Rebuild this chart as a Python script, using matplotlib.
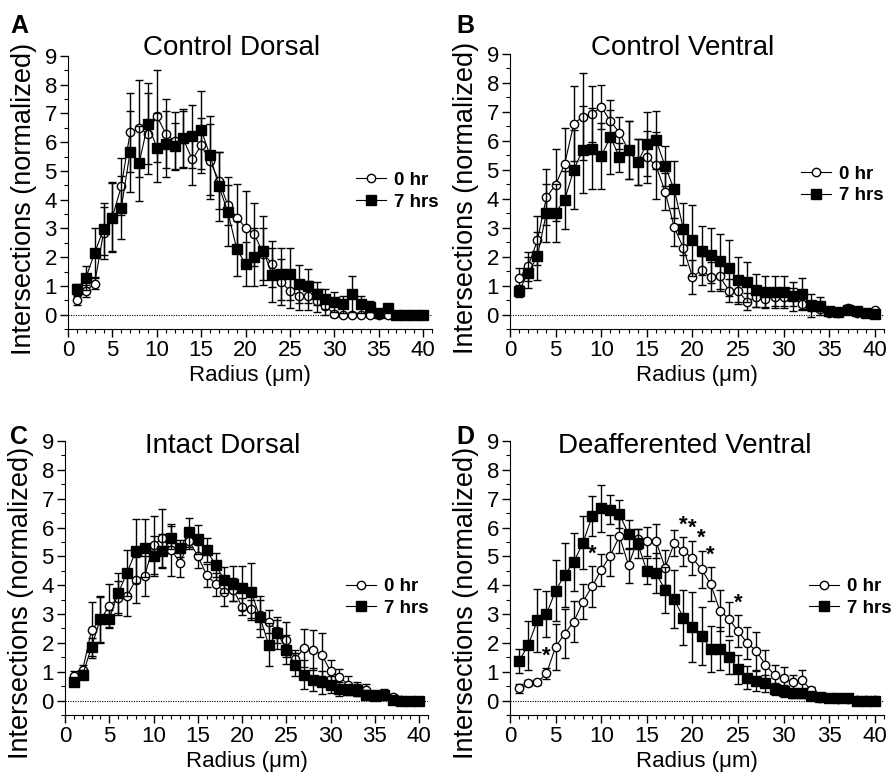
import numpy as np
import matplotlib.pyplot as plt
from matplotlib.lines import Line2D
from matplotlib.ticker import MultipleLocator

plt.rcParams['font.family'] = ['Liberation Sans', 'DejaVu Sans']

radius = np.arange(1, 41)

# A: Control Dorsal
a_0hr = [0.50, 0.82, 1.08, 2.85, 3.40, 4.46, 6.34, 6.48, 6.30, 6.92, 6.30, 6.04, 6.10, 5.40, 5.89, 5.34, 4.66, 3.81, 3.38, 3.03,
         2.79, 2.12, 1.77, 1.13, 0.83, 0.66, 0.66, 0.48, 0.30, 0.02, 0.0, 0.0, 0.0, 0.0, 0.0, 0.0, 0.0, 0.0, 0.0, 0.0]
a_0hr_err = [0.15, 0.2, 0.2, 0.9, 1.2, 1.0, 1.37, 1.7, 1.4, 1.6, 1.2, 1.0, 1.0, 0.9, 0.96, 1.3, 1.0, 0.7, 1.17, 1.27,
             1.1, 0.9, 0.8, 0.8, 0.6, 0.5, 0.5, 0.4, 0.3, 0.1, 0.05, 0.05, 0.05, 0.05, 0.05, 0, 0, 0, 0, 0]
a_7hr = [0.88, 1.27, 2.15, 2.97, 3.37, 3.72, 5.67, 5.26, 6.65, 5.81, 5.93, 5.87, 6.14, 6.20, 6.43, 5.54, 4.46, 3.58, 2.29, 1.76,
         2.00, 2.22, 1.38, 1.42, 1.42, 1.07, 1.00, 0.72, 0.54, 0.45, 0.36, 0.72, 0.36, 0.28, 0.07, 0.22, 0.0, 0.0, 0.0, 0.0]
a_7hr_err = [0.2, 0.43, 0.85, 0.9, 1.2, 1.1, 1.4, 1.3, 1.4, 1.2, 1.15, 0.8, 1.0, 1.1, 1.35, 1.38, 1.2, 1.2, 0.96, 0.76,
             1.0, 1.2, 0.93, 0.9, 0.9, 0.65, 0.6, 0.4, 0.35, 0.35, 0.3, 0.64, 0.3, 0.2, 0.1, 0.1, 0.05, 0, 0, 0]

# B: Control Ventral
b_0hr = [1.26, 1.67, 2.56, 4.06, 4.48, 5.21, 6.59, 6.84, 6.93, 7.18, 6.68, 6.28, 5.67, 5.26, 5.44, 5.15, 4.25, 3.02, 2.30, 1.30,
         1.53, 1.30, 1.32, 0.82, 0.82, 0.44, 0.61, 0.55, 0.61, 0.61, 0.61, 0.38, 0.26, 0.20, 0.06, 0.05, 0.24, 0.05, 0.05, 0.15]
b_0hr_err = [0.35, 0.5, 0.85, 0.97, 1.24, 1.24, 1.3, 1.5, 0.96, 0.76, 0.4, 0.55, 1.0, 0.8, 0.9, 1.15, 0.65, 0.65, 0.6, 0.58,
             0.5, 0.5, 0.5, 0.4, 0.4, 0.3, 0.35, 0.3, 0.3, 0.3, 0.3, 0.2, 0.15, 0.1, 0.05, 0.05, 0.1, 0.05, 0.05, 0.05]
b_7hr = [0.82, 1.45, 2.01, 3.52, 3.52, 3.97, 5.01, 5.70, 5.72, 5.47, 6.13, 5.44, 5.67, 5.26, 5.90, 6.03, 5.13, 4.32, 2.97, 2.56,
         2.20, 2.05, 1.84, 1.62, 1.18, 1.13, 0.84, 0.78, 0.78, 0.78, 0.63, 0.70, 0.32, 0.29, 0.13, 0.09, 0.15, 0.13, 0.07, 0.03]
b_7hr_err = [0.2, 0.55, 0.83, 1.0, 1.0, 1.0, 1.35, 1.5, 1.4, 1.14, 1.27, 0.5, 1.0, 0.8, 1.1, 1.0, 0.7, 0.97, 0.9, 1.23,
             0.85, 0.95, 0.95, 0.97, 0.8, 0.7, 0.57, 0.55, 0.55, 0.55, 0.5, 0.55, 0.4, 0.3, 0.1, 0.1, 0.1, 0.1, 0.05, 0.05]

# C: Intact Dorsal
c_0hr = [0.86, 1.07, 2.45, 2.80, 3.28, 3.55, 3.63, 4.18, 4.33, 5.39, 5.64, 5.22, 4.78, 5.54, 5.01, 4.35, 4.04, 3.78, 3.84, 3.26,
         3.17, 2.97, 2.74, 2.40, 2.11, 1.44, 1.82, 1.76, 1.59, 1.01, 0.81, 0.55, 0.40, 0.38, 0.21, 0.24, 0.13, 0.02, 0.0, 0.0]
c_0hr_err = [0.15, 0.15, 0.98, 0.8, 0.76, 0.6, 0.7, 0.8, 0.7, 1.0, 1.0, 0.9, 0.5, 0.3, 0.4, 0.4, 0.4, 0.5, 0.4, 0.3,
             0.3, 0.5, 0.4, 0.4, 0.6, 0.3, 0.66, 0.7, 0.75, 0.4, 0.3, 0.3, 0.25, 0.2, 0.15, 0.15, 0.1, 0.05, 0, 0]
c_7hr = [0.65, 0.90, 1.86, 2.84, 2.84, 3.72, 4.43, 5.18, 5.28, 5.01, 5.18, 5.64, 5.28, 5.83, 5.59, 5.22, 4.70, 4.19, 4.05, 3.90,
         3.78, 2.91, 1.94, 2.34, 1.76, 1.24, 0.90, 0.73, 0.63, 0.55, 0.40, 0.38, 0.36, 0.21, 0.15, 0.21, 0.03, 0.0, 0.0, 0.0]
c_7hr_err = [0.1, 0.15, 0.3, 0.8, 0.3, 0.7, 0.8, 1.1, 1.0, 0.7, 0.6, 0.4, 0.3, 0.5, 0.5, 0.4, 0.4, 0.45, 0.6, 0.75,
             1.0, 0.7, 0.75, 0.55, 0.5, 0.4, 0.5, 0.4, 0.4, 0.3, 0.25, 0.2, 0.2, 0.15, 0.1, 0.1, 0.05, 0, 0, 0]

# D: Deafferented Ventral
d_0hr = [0.42, 0.60, 0.63, 0.94, 1.86, 2.32, 2.74, 3.43, 3.96, 4.53, 5.03, 5.70, 4.69, 5.59, 5.53, 5.53, 4.61, 5.45, 5.18, 4.95,
         4.55, 4.04, 3.12, 2.83, 2.41, 2.00, 1.72, 1.25, 0.88, 0.77, 0.63, 0.71, 0.37, 0.10, 0.08, 0.06, 0.05, 0.03, 0.02, 0.02]
d_0hr_err = [0.15, 0.1, 0.1, 0.2, 0.8, 0.86, 0.7, 0.6, 0.7, 0.55, 0.7, 0.6, 0.6, 0.35, 0.5, 0.6, 0.6, 0.45, 0.5, 0.6,
             0.65, 0.6, 0.7, 0.6, 0.55, 0.55, 0.65, 0.5, 0.35, 0.4, 0.25, 0.35, 0.1, 0.05, 0.05, 0.05, 0.05, 0.05, 0, 0]
d_7hr = [1.38, 1.92, 2.78, 3.00, 3.81, 4.36, 4.81, 5.47, 6.39, 6.67, 6.62, 6.47, 5.76, 5.45, 4.50, 4.42, 3.84, 3.52, 2.87, 2.55,
         2.24, 1.80, 1.80, 1.51, 1.09, 0.79, 0.68, 0.60, 0.40, 0.33, 0.25, 0.25, 0.17, 0.14, 0.10, 0.08, 0.08, 0.0, 0.0, 0.0]
d_7hr_err = [0.42, 0.85, 1.08, 0.8, 1.06, 1.1, 1.0, 0.92, 0.7, 0.81, 0.5, 0.5, 0.5, 0.5, 0.45, 0.7, 0.8, 1.0, 0.95, 1.2,
             1.0, 0.8, 0.75, 0.6, 0.5, 0.4, 0.35, 0.3, 0.2, 0.2, 0.15, 0.15, 0.1, 0.1, 0.05, 0.05, 0.05, 0, 0, 0]
d_stars = [4, 9, 19, 20, 21, 22, 25]

letters = ['A', 'B', 'C', 'D']
titles = ['Control Dorsal', 'Control Ventral', 'Intact Dorsal', 'Deafferented Ventral']
series = [(a_0hr, a_0hr_err, a_7hr, a_7hr_err),
          (b_0hr, b_0hr_err, b_7hr, b_7hr_err),
          (c_0hr, c_0hr_err, c_7hr, c_7hr_err),
          (d_0hr, d_0hr_err, d_7hr, d_7hr_err)]
stars = [[], [], [], d_stars]
legend_labels = ['0 hr', '7 hrs']

W, H = 891.0, 775.0
# axes boxes in pixels: left, top, right, bottom
boxes = [(68, 56, 432, 329), (510, 54, 884, 329), (65, 441, 428, 715), (510, 441, 884, 715)]
title_pos = [(232, 55), (683, 55), (223, 453), (685, 453)]
letter_pos = [(10, 14), (456, 14), (10, 425), (456, 425)]
ylabel_y = [199, 198, 603, 603]
legend_anchor = [(0.766, 0.505), (0.754, 0.524), (0.749, 0.429), (0.775, 0.429)]

fig = plt.figure(figsize=(W / 100, H / 100), dpi=100)

for i in range(4):
    l, t, r, b = boxes[i]
    ax = fig.add_axes([l / W, 1 - b / H, (r - l) / W, (b - t) / H])
    y0, e0, y7, e7 = series[i]

    ax.axhline(0, color='black', lw=0.8, ls=(0, (1, 1.2)), zorder=1)

    ax.errorbar(radius, y0, yerr=e0, fmt='-o', color='black', lw=0.8, elinewidth=1.0,
                capsize=3, capthick=1.0, ms=6, mfc='white', mec='black', mew=1.0, zorder=2)
    ax.errorbar(radius, y7, yerr=e7, fmt='-s', color='black', lw=0.8, elinewidth=1.0,
                capsize=3, capthick=1.0, ms=7, mfc='black', mec='black', zorder=3)

    for s in stars[i]:
        k = s - 1
        ax.text(s, y0[k] + e0[k] + 0.05, '*', ha='center', va='bottom',
                fontsize=16, fontweight='bold')

    ax.set_xlim(0, 41)
    ax.set_ylim(-0.5, 9)
    ax.spines['top'].set_visible(False)
    ax.spines['right'].set_visible(False)
    ax.xaxis.set_major_locator(MultipleLocator(5))
    ax.xaxis.set_minor_locator(MultipleLocator(1))
    ax.yaxis.set_major_locator(MultipleLocator(1))
    ax.yaxis.set_minor_locator(MultipleLocator(0.5))
    ax.tick_params(which='major', length=6, width=1, direction='out')
    ax.tick_params(which='minor', length=3, width=0.8, direction='out')
    ax.tick_params(axis='y', labelsize=16, pad=2)
    ax.tick_params(axis='x', labelsize=16, pad=2)

    ax.set_xlabel('Radius (\u03bcm)', fontsize=16, labelpad=3)
    # y label sits well left of the tick labels
    fig.text((l - 44) / W, 1 - ylabel_y[i] / H, 'Intersections (normalized)',
             rotation=90, ha='center', va='center', fontsize=19.5)

    handles = [Line2D([], [], color='black', lw=0.8, marker='o', ms=6, mfc='white', mec='black'),
               Line2D([], [], color='black', lw=0.8, marker='s', ms=7, mfc='black')]
    ax.legend(handles, legend_labels, loc='center left', bbox_to_anchor=legend_anchor[i],
              frameon=False, borderpad=0, handlelength=1.6, handletextpad=0.4,
              labelspacing=0.25, prop={'weight': 'bold', 'size': 13.5})

    fig.text(title_pos[i][0] / W, 1 - title_pos[i][1] / H, titles[i],
             ha='center', va='baseline', fontsize=20)
    fig.text(letter_pos[i][0] / W, 1 - letter_pos[i][1] / H, letters[i],
             ha='left', va='top', fontsize=18, fontweight='bold')

fig.savefig('out.png', dpi=100)
